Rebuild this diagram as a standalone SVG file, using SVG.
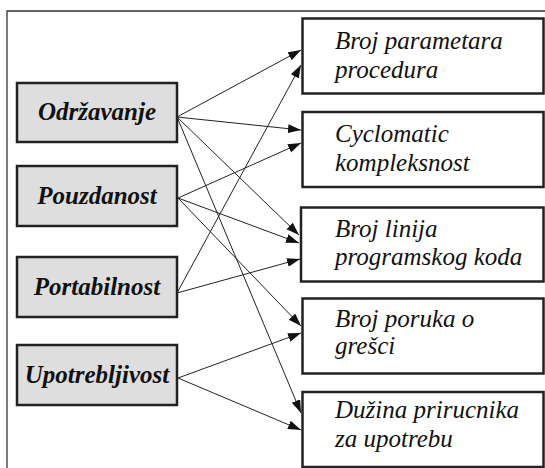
<svg xmlns="http://www.w3.org/2000/svg" width="545" height="468" viewBox="0 0 545 468" xml:lang="hr">
<defs>
<marker id="arr" markerUnits="userSpaceOnUse" markerWidth="14" markerHeight="10" refX="13" refY="4.5" orient="auto">
<path d="M0,0 L13,4.5 L0,9 z" fill="#111"/>
</marker>
</defs>
<path d="M7,468 L7,11 L545,11" fill="none" stroke="#333" stroke-width="1.3"/>
<g fill="#111" font-family="'Liberation Serif', 'Times New Roman', serif" font-size="25" font-style="italic" font-weight="bold" text-anchor="middle">
<g id="n-odrzavanje"><rect x="17" y="83" width="160" height="59" fill="#dedede" stroke="#222" stroke-width="2.5"/><text x="97" y="119.5">Održavanje</text></g>
<g id="n-pouzdanost"><rect x="17" y="166" width="160" height="60" fill="#dedede" stroke="#222" stroke-width="2.5"/><text x="97" y="204">Pouzdanost</text></g>
<g id="n-portabilnost"><rect x="17" y="257" width="160" height="60" fill="#dedede" stroke="#222" stroke-width="2.5"/><text x="97" y="295">Portabilnost</text></g>
<g id="n-upotrebljivost"><rect x="17" y="345" width="160" height="60" fill="#dedede" stroke="#222" stroke-width="2.5"/><text x="97" y="383">Upotrebljivost</text></g>
</g>
<g font-family="'Liberation Serif', 'Times New Roman', serif" font-size="25" font-style="italic" fill="#111">
<g id="n-bp"><rect x="302.5" y="18.5" width="241" height="75" fill="#fff" stroke="#222" stroke-width="2.5"/><text x="335" y="48.5">Broj parametara</text><text x="335" y="78">procedura</text></g>
<g id="n-cyc"><rect x="302.5" y="112" width="241" height="75" fill="#fff" stroke="#222" stroke-width="2.5"/><text x="335" y="141.5">Cyclomatic</text><text x="335" y="170.5">kompleksnost</text></g>
<g id="n-bl"><rect x="301" y="207.5" width="242.5" height="74" fill="#fff" stroke="#222" stroke-width="2.5"/><text x="335" y="237">Broj linija</text><text x="335" y="265">programskog koda</text></g>
<g id="n-bpor"><rect x="302.5" y="298.5" width="241" height="75" fill="#fff" stroke="#222" stroke-width="2.5"/><text x="335" y="327">Broj poruka o</text><text x="335" y="354">grešci</text></g>
<g id="n-duz"><rect x="302.5" y="392" width="241" height="75" fill="#fff" stroke="#222" stroke-width="2.5"/><text x="335" y="418">Dužina prirucnika</text><text x="335" y="446.5">za upotrebu</text></g>
</g>
<g id="connectors" stroke="#222" stroke-width="1" fill="none" marker-end="url(#arr)">
<line x1="177" y1="117" x2="301" y2="50"/>
<line x1="177" y1="117" x2="301" y2="130"/>
<line x1="177" y1="117" x2="299" y2="235"/>
<line x1="177" y1="117" x2="301" y2="413"/>
<line x1="178" y1="198" x2="301" y2="143"/>
<line x1="178" y1="198" x2="299" y2="243"/>
<line x1="178" y1="198" x2="301" y2="326"/>
<line x1="177" y1="293" x2="301" y2="65"/>
<line x1="177" y1="293" x2="300" y2="259"/>
<line x1="178" y1="378" x2="301" y2="333"/>
<line x1="178" y1="378" x2="301" y2="430"/>
</g>
</svg>
